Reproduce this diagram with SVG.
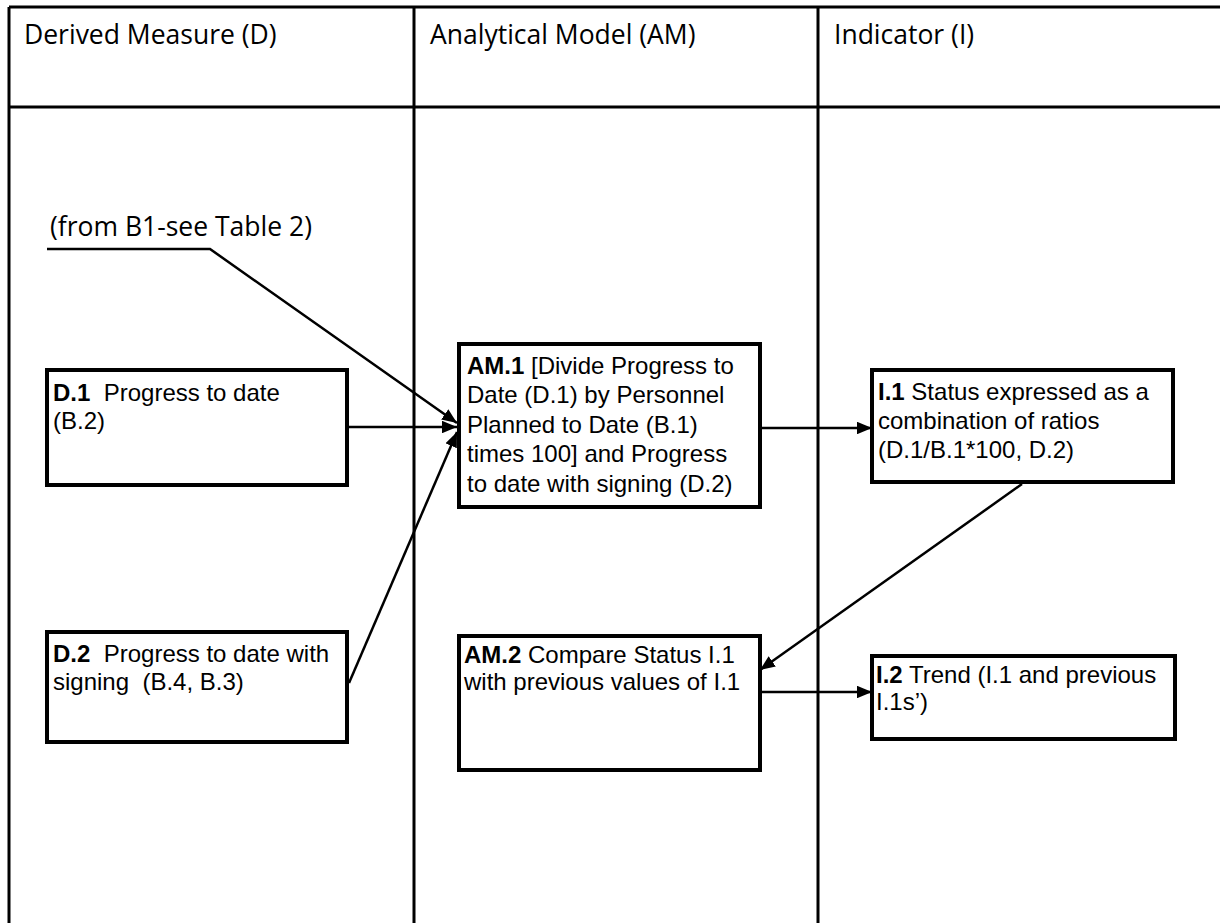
<svg xmlns="http://www.w3.org/2000/svg" width="1220" height="923" viewBox="0 0 1220 923">
<style>
.grid{stroke:#000;stroke-width:3;fill:none}
.box{fill:#fff;stroke:#000;stroke-width:4}
.hdr{font-family:"Open Sans","Noto Sans",sans-serif;font-size:26.5px;fill:#000}
.t{font-family:"Liberation Sans",Arial,sans-serif;font-size:24px;fill:#000;white-space:pre}
.n{font-family:"Liberation Sans",Arial,sans-serif;font-size:24px;fill:#000;white-space:pre}
.b{font-weight:bold}
.c{stroke:#000;stroke-width:2.5;fill:none;marker-end:url(#ah)}
</style>
<defs>
<marker id="ah" viewBox="0 0 10 10" refX="10" refY="5" markerWidth="6" markerHeight="5" orient="auto" markerUnits="strokeWidth" preserveAspectRatio="none">
<path d="M0,0 L10,5 L0,10 z" fill="#000"/>
</marker>
</defs>
<rect width="1220" height="923" fill="#fff"/>
<g id="table">
<path class="grid" d="M9,7 H1220 M9,107 H1220 M9,7 V923 M414,7 V923 M818,7 V923"/>
<text class="hdr" x="24" y="44">Derived Measure (D)</text>
<text class="hdr" x="430" y="44">Analytical Model (AM)</text>
<text class="hdr" x="834" y="44">Indicator (I)</text>
<text class="hdr" x="50" y="236">(from B1-see Table 2)</text>
</g>
<g id="connectors">
<polyline class="c" points="47,249 210,249 457,423"/>
<line class="c" x1="349" y1="427" x2="457" y2="427"/>
<line class="c" x1="349" y1="683" x2="457" y2="432"/>
<line class="c" x1="760" y1="428" x2="872" y2="428"/>
<line class="c" x1="1022" y1="484" x2="760" y2="670"/>
<line class="c" x1="760" y1="692" x2="872" y2="692"/>
</g>
<g id="D1">
<rect class="box" x="47" y="370" width="300" height="115"/>
<text class="t" x="53" y="401"><tspan class="b">D.1</tspan>  Progress to date</text>
<text class="t" x="53" y="429">(B.2)</text>
</g>
<g id="D2">
<rect class="box" x="47" y="632" width="300" height="110"/>
<text class="t" x="53" y="662"><tspan class="b">D.2</tspan>  Progress to date with</text>
<text class="t" x="53" y="690">signing  (B.4, B.3)</text>
</g>
<g id="AM1">
<rect class="box" x="459" y="344" width="301" height="163"/>
<text class="t" x="467" y="374"><tspan class="b">AM.1</tspan> [Divide Progress to</text>
<text class="t" x="467" y="403">Date (D.1) by Personnel</text>
<text class="t" x="467" y="433">Planned to Date (B.1)</text>
<text class="t" x="467" y="462">times 100] and Progress</text>
<text class="t" x="467" y="492">to date with signing (D.2)</text>
</g>
<g id="I1">
<rect class="box" x="872" y="370" width="301" height="112"/>
<text class="t" x="878" y="400"><tspan class="b">I.1</tspan> Status expressed as a</text>
<text class="t" x="878" y="429">combination of ratios</text>
<text class="t" x="878" y="458">(D.1/B.1*100, D.2)</text>
</g>
<g id="AM2">
<rect class="box" x="459" y="636" width="301" height="134"/>
<text class="n" x="464" y="663"><tspan class="b">AM.2</tspan> Compare Status I.1</text>
<text class="n" x="464" y="690">with previous values of I.1</text>
</g>
<g id="I2">
<rect class="box" x="872" y="656" width="303" height="83"/>
<text class="n" x="876" y="683"><tspan class="b">I.2</tspan> Trend (I.1 and previous</text>
<text class="n" x="876" y="710">I.1s’)</text>
</g>
</svg>
